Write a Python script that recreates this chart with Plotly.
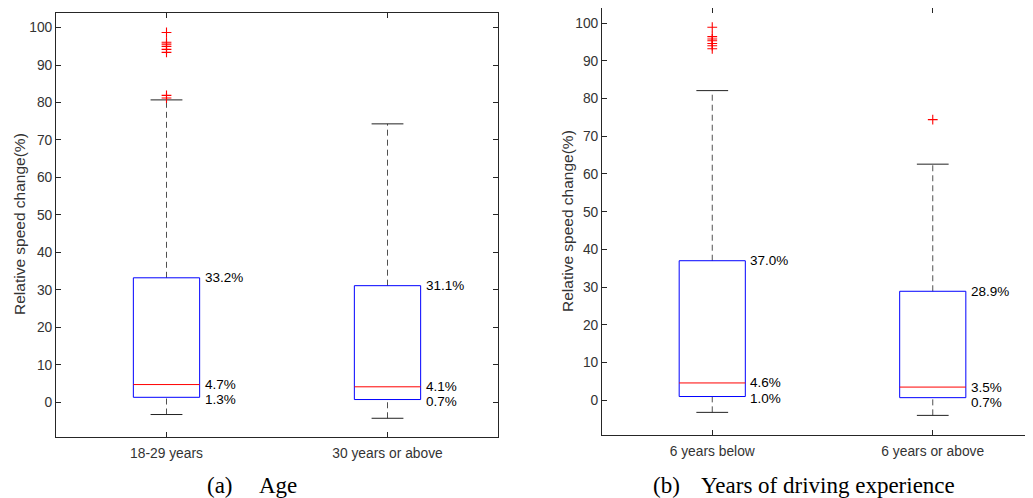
import plotly.graph_objects as go

# ---- data ----
groups_a = ["18-29 years", "30 years or above"]
q1_a = [1.3, 0.7]
med_a = [4.7, 4.1]
q3_a = [33.2, 31.1]
lo_a = [-3.3, -4.3]
hi_a = [80.7, 74.3]
out_a = [[98.7, 96.1, 95.6, 95.0, 94.2, 93.4, 81.9, 81.2], []]

groups_b = ["6 years below", "6 years or above"]
q1_b = [1.0, 0.7]
med_b = [4.6, 3.5]
q3_b = [37.0, 28.9]
lo_b = [-3.2, -4.0]
hi_b = [82.1, 62.6]
out_b = [[98.9, 96.4, 95.8, 95.3, 94.6, 94.0, 93.2], [74.4]]

caption_a = ("(a)", "Age")
caption_b = ("(b)", "Years of driving experience")
ytitle = "Relative speed change(%)"

OFF = 8  # page body margin
W, H = 1033 - OFF, 498 - OFF
SANS = "Liberation Sans, Arial, sans-serif"
SERIF = "Liberation Serif, Times New Roman, serif"
AX = "#262626"
BW = 0.15   # half box width (data units)
CW = 0.072  # half cap width
MIN_GAP = 15  # min pixel gap between median and Q1 labels

YR_A = [-9.3, 103.9]
YR_B = [-9.2, 104.0]
YPX_A = (437, 13)
YPX_B = (435, 8)


def px(x):
    return (x - OFF) / W


def py(y):
    return 1 - (y - OFF) / H


fig = go.Figure()
annotations = []


def add_panel(xa, ya, groups, q1, med, q3, lo, hi, outs, yr, ypx):
    ppu = (ypx[0] - ypx[1]) / (yr[1] - yr[0])
    for i in range(len(groups)):
        c = i + 1
        # whiskers (dashed)
        for y0, y1 in ((q3[i], hi[i]), (lo[i], q1[i])):
            fig.add_trace(go.Scatter(x=[c, c], y=[y0, y1], mode="lines", xaxis=xa, yaxis=ya,
                                     line=dict(color="#505050", width=1, dash="6px,4px"),
                                     hoverinfo="skip"))
        # caps
        for v in (hi[i], lo[i]):
            fig.add_trace(go.Scatter(x=[c - CW, c + CW], y=[v, v], mode="lines", xaxis=xa, yaxis=ya,
                                     line=dict(color="#222222", width=1), hoverinfo="skip"))
        # box
        fig.add_trace(go.Scatter(x=[c - BW, c + BW, c + BW, c - BW, c - BW],
                                 y=[q1[i], q1[i], q3[i], q3[i], q1[i]], mode="lines",
                                 xaxis=xa, yaxis=ya, line=dict(color="#0000FF", width=1),
                                 hoverinfo="skip"))
        # median
        fig.add_trace(go.Scatter(x=[c - BW, c + BW], y=[med[i], med[i]], mode="lines",
                                 xaxis=xa, yaxis=ya, line=dict(color="#FF0000", width=1),
                                 hoverinfo="skip"))
        # outliers
        if outs[i]:
            fig.add_trace(go.Scatter(x=[c] * len(outs[i]), y=outs[i], mode="markers",
                                     xaxis=xa, yaxis=ya,
                                     marker=dict(symbol="cross-thin", size=7,
                                                 line=dict(color="#FF0000", width=1.1)),
                                     hoverinfo="skip"))
        # value labels
        gap = (med[i] - q1[i]) * ppu
        q1_shift = min(-1.5, -(MIN_GAP - gap))
        for v, ys in ((q3[i], 0), (med[i], 0), (q1[i], q1_shift)):
            annotations.append(dict(x=c + BW, y=v, xref=xa, yref=ya, text=f"{v:.1f}%",
                                    showarrow=False, xanchor="left", yanchor="middle",
                                    xshift=3, yshift=ys,
                                    font=dict(family=SANS, size=13.5, color="#000000")))


add_panel("x", "y", groups_a, q1_a, med_a, q3_a, lo_a, hi_a, out_a, YR_A, YPX_A)
add_panel("x2", "y2", groups_b, q1_b, med_b, q3_b, lo_b, hi_b, out_b, YR_B, YPX_B)

axis_common = dict(showgrid=False, zeroline=False, showline=True, linecolor=AX, linewidth=1,
                   ticks="inside", ticklen=5, tickcolor=AX,
                   tickfont=dict(family=SANS, size=13.8, color="#333333"))

x2_right = 1033
fig.update_layout(
    width=W, height=H, margin=dict(l=0, r=0, t=0, b=0),
    paper_bgcolor="white", plot_bgcolor="white", showlegend=False,
    xaxis=dict(domain=[px(56), px(498)], range=[0.5, 2.5], tickvals=[1, 2], ticktext=groups_a,
               mirror="ticks", anchor="y", ticklabelstandoff=3, **axis_common),
    yaxis=dict(domain=[py(YPX_A[0]), py(YPX_A[1])], range=YR_A, tick0=0, dtick=10,
               mirror="ticks", anchor="x", **axis_common),
    xaxis2=dict(domain=[px(602), 1.0], range=[0.5, 0.5 + (x2_right - 602) / 220.5],
                tickvals=[1, 2], ticktext=groups_b, ticklabelstandoff=3,
                mirror="ticks", anchor="y2", **axis_common),
    yaxis2=dict(domain=[py(YPX_B[0]), py(YPX_B[1])], range=YR_B, tick0=0, dtick=10,
                mirror=False, anchor="x2", **axis_common),
)

# y-axis titles
annotations.append(dict(x=px(20), y=py(224), xref="paper", yref="paper", text=ytitle,
                        textangle=-90, showarrow=False, xanchor="center", yanchor="middle",
                        font=dict(family=SANS, size=15.5, color="#333333")))
annotations.append(dict(x=px(567), y=py(221), xref="paper", yref="paper", text=ytitle,
                        textangle=-90, showarrow=False, xanchor="center", yanchor="middle",
                        font=dict(family=SANS, size=15.5, color="#333333")))

# captions
for (lab, txt), xl, xt in ((caption_a, 205, 257), (caption_b, 651, 699)):
    annotations.append(dict(x=px(xl), y=py(485), xref="paper", yref="paper", text=lab,
                            showarrow=False, xanchor="left", yanchor="middle",
                            font=dict(family=SERIF, size=23, color="#000000")))
    annotations.append(dict(x=px(xt), y=py(485), xref="paper", yref="paper", text=txt,
                            showarrow=False, xanchor="left", yanchor="middle",
                            font=dict(family=SERIF, size=23, color="#000000")))

fig.update_layout(annotations=annotations)
fig.write_html("out.html")
